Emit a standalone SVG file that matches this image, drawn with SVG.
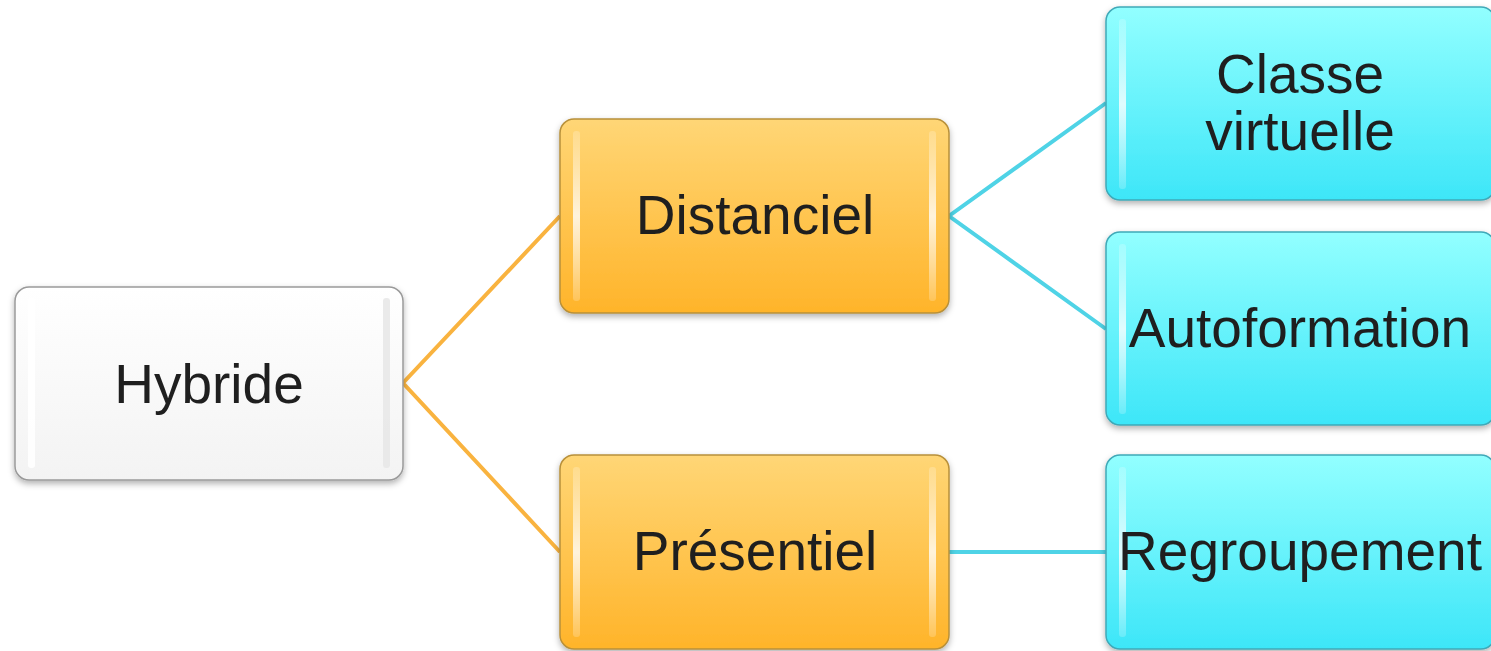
<svg xmlns="http://www.w3.org/2000/svg" width="1491" height="651" viewBox="0 0 1491 651">
<defs>
<style>
text{font-family:"Liberation Sans",Arial,sans-serif;font-size:55px;fill:#1f1f1f;text-anchor:middle}
.conn-o{stroke:#F9B33F;stroke-width:4;fill:none}
.conn-c{stroke:#4FD3E6;stroke-width:4;fill:none}
.white{fill:url(#gw);stroke:#9a9a9a;stroke-width:1.5}
.orange{fill:url(#go);stroke:#b8903a;stroke-width:1.5}
.cyan{fill:url(#gc);stroke:#3fa9b8;stroke-width:1.5}
.hl{fill:#ffffff;opacity:0.55}
</style>
<linearGradient id="gw" x1="0" y1="0" x2="0" y2="1"><stop offset="0" stop-color="#ffffff"/><stop offset="1" stop-color="#f3f3f3"/></linearGradient>
<linearGradient id="go" x1="0" y1="0" x2="0" y2="1"><stop offset="0" stop-color="#FFD676"/><stop offset="1" stop-color="#FFB42A"/></linearGradient>
<linearGradient id="gc" x1="0" y1="0" x2="0" y2="1"><stop offset="0" stop-color="#92FFFF"/><stop offset="1" stop-color="#3DE6F8"/></linearGradient>
<linearGradient id="side" x1="0" y1="0" x2="0" y2="1"><stop offset="0" stop-color="#fff" stop-opacity="0.2"/><stop offset="0.5" stop-color="#fff" stop-opacity="0.8"/><stop offset="1" stop-color="#fff" stop-opacity="0.2"/></linearGradient>
<filter id="sh" x="-10%" y="-10%" width="120%" height="130%"><feDropShadow dx="0" dy="3" stdDeviation="3" flood-color="#000" flood-opacity="0.3"/></filter>
</defs>
<rect width="1491" height="651" fill="#ffffff"/>
<g id="connectors">
<polyline class="conn-o" points="560,216 403,383 560,552"/>
<polyline class="conn-c" points="1106,103 949,216 1106,329"/>
<line class="conn-c" x1="949" y1="552" x2="1106" y2="552"/>
</g>
<g id="node-hybride">
<rect class="white" x="15" y="287" width="388" height="193" rx="14" filter="url(#sh)"/>
<rect x="28" y="298" width="7" height="170" rx="3" fill="#fff" opacity="0.9"/>
<rect x="383" y="298" width="7" height="170" rx="3" fill="#e8e8e8" opacity="0.9"/>
<text x="209" y="403">Hybride</text>
</g>
<g id="node-distanciel">
<rect class="orange" x="560" y="119" width="389" height="194" rx="14" filter="url(#sh)"/>
<rect x="573" y="131" width="7" height="170" rx="3" fill="url(#side)"/>
<rect x="929" y="131" width="7" height="170" rx="3" fill="url(#side)"/>
<text x="755" y="234">Distanciel</text>
</g>
<g id="node-presentiel">
<rect class="orange" x="560" y="455" width="389" height="194" rx="14" filter="url(#sh)"/>
<rect x="573" y="467" width="7" height="170" rx="3" fill="url(#side)"/>
<rect x="929" y="467" width="7" height="170" rx="3" fill="url(#side)"/>
<text x="755" y="570">Présentiel</text>
</g>
<g id="node-classe">
<rect class="cyan" x="1106" y="7" width="389" height="193" rx="14" filter="url(#sh)"/>
<rect x="1119" y="19" width="7" height="170" rx="3" fill="url(#side)"/>
<text x="1300" y="93">Classe</text>
<text x="1300" y="150">virtuelle</text>
</g>
<g id="node-autoformation">
<rect class="cyan" x="1106" y="232" width="389" height="193" rx="14" filter="url(#sh)"/>
<rect x="1119" y="244" width="7" height="170" rx="3" fill="url(#side)"/>
<text x="1300" y="347">Autoformation</text>
</g>
<g id="node-regroupement">
<rect class="cyan" x="1106" y="455" width="389" height="194" rx="14" filter="url(#sh)"/>
<rect x="1119" y="467" width="7" height="170" rx="3" fill="url(#side)"/>
<text x="1300" y="570">Regroupement</text>
</g>
</svg>
